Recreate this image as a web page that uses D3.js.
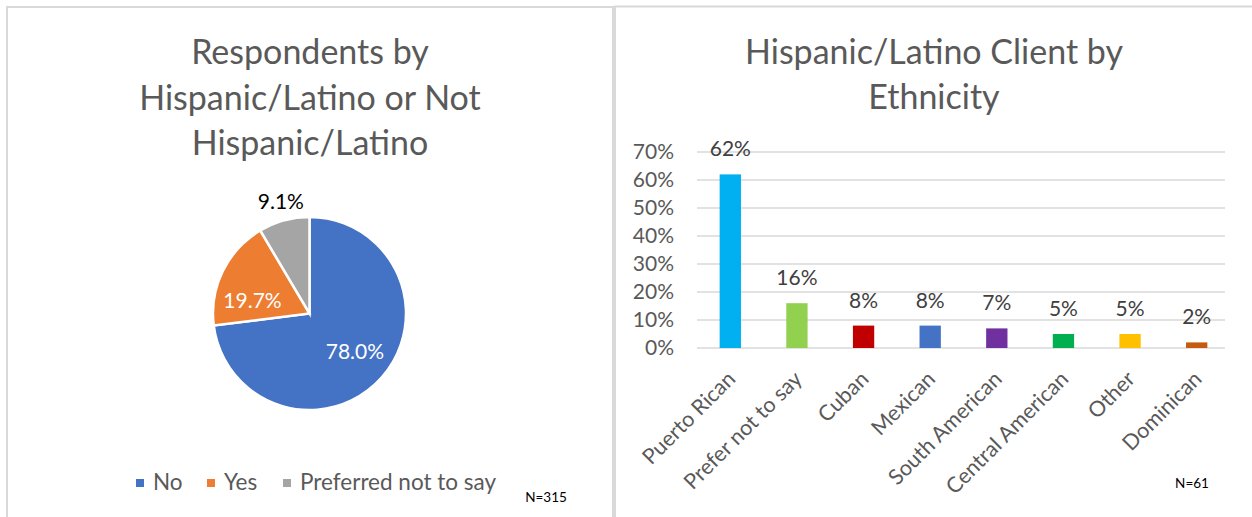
<!DOCTYPE html>
<html>
<head>
<meta charset="utf-8">
<script src="https://cdn.jsdelivr.net/npm/d3@7"></script>
<style>
  html, body { margin: 0; padding: 0; background: #fff; }
  svg { display: block; font-family: Lato, "Open Sans", sans-serif; }
</style>
</head>
<body>
<svg id="chart" width="1252" height="517"></svg>
<script>
// Respondents by Hispanic/Latino status (pie)
const pieCategories = ["No", "Yes", "Preferred not to say"];
const pieValues = [78.0, 19.7, 9.1];
const pieColors = ["#4472C4", "#ED7D31", "#A5A5A5"];
const pieN = "N=315";

// Hispanic/Latino clients by ethnicity (bars)
const barCategories = ["Puerto Rican", "Prefer not to say", "Cuban", "Mexican",
  "South American", "Central American", "Other", "Dominican"];
const barValues = [62, 16, 8, 8, 7, 5, 5, 2];
const barColors = ["#00B0F0", "#92D050", "#C00000", "#4472C4",
  "#7030A0", "#00B050", "#FFC000", "#C55A11"];
const yTicks = [0, 10, 20, 30, 40, 50, 60, 70];
const barN = "N=61";

const svg = d3.select("#chart");
const textGray = "#595959";

// ---- panel frames ----
svg.append("rect").attr("x", 7).attr("y", 7).attr("width", 606).attr("height", 530)
  .attr("fill", "#fff").attr("stroke", "#D9D9D9").attr("stroke-width", 2);
svg.append("rect").attr("x", 615).attr("y", 6.5).attr("width", 660).attr("height", 530)
  .attr("fill", "#fff").attr("stroke", "#D9D9D9").attr("stroke-width", 2);

// ---- pie panel ----
const pieTitle = ["Respondents by", "Hispanic/Latino or Not", "Hispanic/Latino"];
svg.append("g").selectAll("text").data(pieTitle).join("text")
  .attr("x", 310).attr("y", (d, i) => 64 + i * 45.5)
  .attr("text-anchor", "middle").attr("fill", textGray)
  .attr("font-size", 34).text(d => d);

const cx = 309.5, cy = 313.5, r = 96.5;
const pie = d3.pie().sort(null).value(d => d)(pieValues);
const arc = d3.arc().innerRadius(0).outerRadius(r);
const inLabel = d3.arc().innerRadius(r * 0.6).outerRadius(r * 0.6);
const outLabel = d3.arc().innerRadius(r * 1.2).outerRadius(r * 1.2);
// small nudges so the inside labels sit where they fit best
const labelNudge = [[2, 0], [-5, 13], [2, 0]];
const pg = svg.append("g").attr("transform", `translate(${cx},${cy})`);
pg.selectAll("path").data(pie).join("path")
  .attr("d", arc).attr("fill", (d, i) => pieColors[i])
  .attr("stroke", "#fff").attr("stroke-width", 2.5).attr("stroke-linejoin", "miter");
pg.selectAll("text").data(pie).join("text")
  .attr("transform", (d, i) => {
    const c = (i === 2 ? outLabel : inLabel).centroid(d);
    return `translate(${c[0] + labelNudge[i][0]},${c[1] + labelNudge[i][1]})`;
  })
  .attr("text-anchor", "middle").attr("dy", "0.35em")
  .attr("font-size", 21)
  .attr("fill", (d, i) => i === 2 ? "#000" : "#fff")
  .text(d => d.data.toFixed(1) + "%");

// legend
const legendX = [136, 207, 283];
const lg = svg.append("g");
pieCategories.forEach((name, i) => {
  lg.append("rect").attr("x", legendX[i]).attr("y", 479).attr("width", 8).attr("height", 8)
    .attr("fill", pieColors[i]);
  lg.append("text").attr("x", legendX[i] + 17).attr("y", 490)
    .attr("fill", textGray).attr("font-size", 22.5).text(name);
});
svg.append("text").attr("x", 546).attr("y", 502).attr("text-anchor", "middle")
  .attr("font-size", 13.5).attr("fill", "#000").text(pieN);

// ---- bar panel ----
const barTitle = ["Hispanic/Latino Client by", "Ethnicity"];
svg.append("g").selectAll("text").data(barTitle).join("text")
  .attr("x", 934).attr("y", (d, i) => 64 + i * 44.5)
  .attr("text-anchor", "middle").attr("fill", textGray)
  .attr("font-size", 34).text(d => d);

const x = d3.scaleBand().domain(barCategories).range([697, 1230]).paddingInner(0.68).paddingOuter(0.34);
const y = d3.scaleLinear().domain([0, 70]).range([348, 152]);

// gridlines
svg.append("g").selectAll("line").data(yTicks).join("line")
  .attr("x1", 697).attr("x2", 1225)
  .attr("y1", d => y(d)).attr("y2", d => y(d))
  .attr("stroke", "#D9D9D9").attr("stroke-width", 1.3);

// y axis labels
const yAxis = d3.axisLeft(y).tickValues(yTicks).tickSize(0).tickPadding(0)
  .tickFormat(d => d + "%");
const ya = svg.append("g").attr("transform", "translate(674,0)").call(yAxis);
ya.select(".domain").remove();
ya.selectAll("text").attr("font-size", 21).attr("fill", textGray)
  .attr("font-family", "Lato, sans-serif");

// bars
svg.append("g").selectAll("rect").data(barValues).join("rect")
  .attr("x", (d, i) => x(barCategories[i]))
  .attr("y", d => y(d))
  .attr("width", x.bandwidth())
  .attr("height", d => y(0) - y(d))
  .attr("fill", (d, i) => barColors[i]);

// value labels
svg.append("g").selectAll("text").data(barValues).join("text")
  .attr("x", (d, i) => x(barCategories[i]) + x.bandwidth() / 2)
  .attr("y", d => y(d) - 18)
  .attr("text-anchor", "middle").attr("font-size", 21).attr("fill", "#404040")
  .text(d => d + "%");

// category labels, rotated
const xAxis = d3.axisBottom(x).tickSize(0).tickPadding(0);
const xa = svg.append("g").attr("transform", "translate(0,348)").call(xAxis);
xa.select(".domain").remove();
xa.selectAll("text")
  .attr("font-size", 21.5).attr("fill", textGray).attr("font-family", "Lato, sans-serif")
  .attr("text-anchor", "end")
  .attr("dy", "0.35em").attr("y", 0).attr("x", 0)
  .attr("transform", "translate(1,27) rotate(-45)");

svg.append("text").attr("x", 1192).attr("y", 488).attr("text-anchor", "middle")
  .attr("font-size", 13.5).attr("fill", "#000").text(barN);
</script>
</body>
</html>
